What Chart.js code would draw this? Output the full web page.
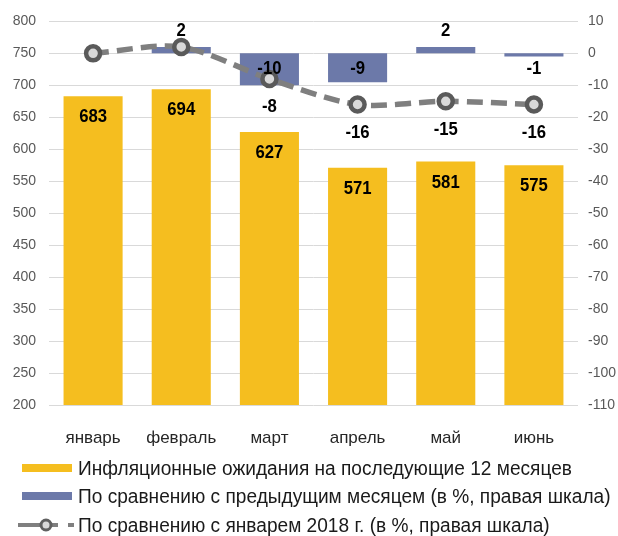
<!DOCTYPE html>
<html>
<head>
<meta charset="utf-8">
<script src="https://cdn.jsdelivr.net/npm/chart.js@4"></script>
<style>
html,body{margin:0;padding:0;background:#fff;}
#wrap{width:618px;height:536px;}
</style>
</head>
<body>
<div id="wrap"><canvas id="c" width="618" height="536"></canvas></div>
<script>
const categories = ["январь","февраль","март","апрель","май","июнь"];
const expectations = [683, 694, 627, 571, 581, 575];
const vsPrevMonth = [0, 2, -10, -9, 2, -1];
const vsJanuary = [0, 2, -8, -16, -15, -16];
const seriesNames = [
  "Инфляционные ожидания на последующие 12 месяцев",
  "По сравнению с предыдущим месяцем (в %, правая шкала)",
  "По сравнению с январем 2018 г. (в %, правая шкала)"
];

const YELLOW = "#F5BE1F";
const BLUE = "#6C79A9";
const LINE = "#7F7F7F";
const REG = '"Liberation Sans", Arial, sans-serif';

function narrowText(ctx, t, x, y, sx) {
  ctx.save();
  ctx.translate(x, y);
  ctx.scale(sx, 1);
  ctx.fillText(t, 0, 0);
  ctx.restore();
}

const labelPlugin = {
  id: 'labels',
  afterDatasetsDraw(chart) {
    const ctx = chart.ctx;
    ctx.save();
    ctx.fillStyle = "#000";
    ctx.textAlign = "center";
    ctx.textBaseline = "middle";
    ctx.font = "bold 19px " + REG;
    const y1 = chart.scales.y1;
    chart.getDatasetMeta(0).data.forEach((el, i) => {
      narrowText(ctx, String(expectations[i]), el.x, el.y + 21, 0.88);
    });
    chart.getDatasetMeta(1).data.forEach((el, i) => {
      const v = vsPrevMonth[i];
      if (v === 0) return;
      if (v > 0) narrowText(ctx, String(v), el.x, el.y - 16, 0.88);
      else narrowText(ctx, String(v), el.x, y1.getPixelForValue(0) + 15, 0.88);
    });
    chart.getDatasetMeta(2).data.forEach((el, i) => {
      const v = vsJanuary[i];
      if (v >= 0) return;
      narrowText(ctx, String(v), el.x, el.y + 28, 0.88);
    });
    ctx.restore();
  },
  afterDraw(chart) {
    const ctx = chart.ctx;
    ctx.save();
    const rows = [468, 496, 525];
    ctx.fillStyle = YELLOW;
    ctx.fillRect(22, rows[0] - 4, 50, 8);
    ctx.fillStyle = BLUE;
    ctx.fillRect(22, rows[1] - 4, 50, 8);
    ctx.strokeStyle = LINE;
    ctx.lineWidth = 4;
    ctx.beginPath(); ctx.moveTo(18, rows[2]); ctx.lineTo(42, rows[2]); ctx.stroke();
    ctx.beginPath(); ctx.moveTo(50, rows[2]); ctx.lineTo(58, rows[2]); ctx.stroke();
    ctx.beginPath(); ctx.moveTo(68, rows[2]); ctx.lineTo(74, rows[2]); ctx.stroke();
    ctx.beginPath(); ctx.arc(46, rows[2], 5, 0, Math.PI * 2);
    ctx.fillStyle = "#D9D9D9"; ctx.fill();
    ctx.lineWidth = 3; ctx.strokeStyle = "#606060"; ctx.stroke();
    ctx.font = "20px " + REG;
    ctx.fillStyle = "#1a1a1a";
    ctx.textAlign = "left";
    ctx.textBaseline = "middle";
    seriesNames.forEach((t, i) => narrowText(ctx, t, 78, rows[i] + 1, 0.955));
    ctx.restore();
  }
};

new Chart(document.getElementById('c'), {
  data: {
    labels: categories,
    datasets: [
      {
        type: 'bar', label: seriesNames[0], data: expectations, yAxisID: 'y',
        backgroundColor: YELLOW, grouped: false, order: 3,
        barPercentage: 0.67, categoryPercentage: 1.0
      },
      {
        type: 'bar', label: seriesNames[1], data: vsPrevMonth, yAxisID: 'y1',
        backgroundColor: BLUE, grouped: false, order: 2,
        barPercentage: 0.67, categoryPercentage: 1.0
      },
      {
        type: 'line', label: seriesNames[2], data: vsJanuary, yAxisID: 'y1',
        borderColor: LINE, borderWidth: 5.5, borderDash: [16, 8], tension: 0.3,
        pointRadius: 7, pointBorderWidth: 4.5, pointBackgroundColor: "#D9D9D9",
        pointBorderColor: "#5A5A5A", fill: false, order: 1
      }
    ]
  },
  options: {
    responsive: false,
    animation: false,
    events: [],
    layout: { padding: { top: 20, left: 0, right: 0, bottom: 0 } },
    plugins: { legend: { display: false }, tooltip: { enabled: false } },
    scales: {
      x: {
        grid: { display: false },
        border: { display: false },
        ticks: { color: "#262626", font: { family: REG, size: 17 }, padding: 15 },
        afterFit(s) { s.height = 131; }
      },
      y: {
        position: 'left', min: 200, max: 800,
        ticks: { stepSize: 50, color: "#595959", font: { family: REG, size: 14 }, padding: 13 },
        grid: { color: "#D9D9D9", lineWidth: 1, drawTicks: false },
        border: { display: false },
        afterFit(s) { s.width = 49; }
      },
      y1: {
        position: 'right', min: -110, max: 10,
        ticks: { stepSize: 10, color: "#595959", font: { family: REG, size: 14 }, padding: 10 },
        grid: { display: false, drawTicks: false },
        border: { display: false },
        afterFit(s) { s.width = 40; }
      }
    }
  },
  plugins: [labelPlugin]
});
</script>
</body>
</html>
